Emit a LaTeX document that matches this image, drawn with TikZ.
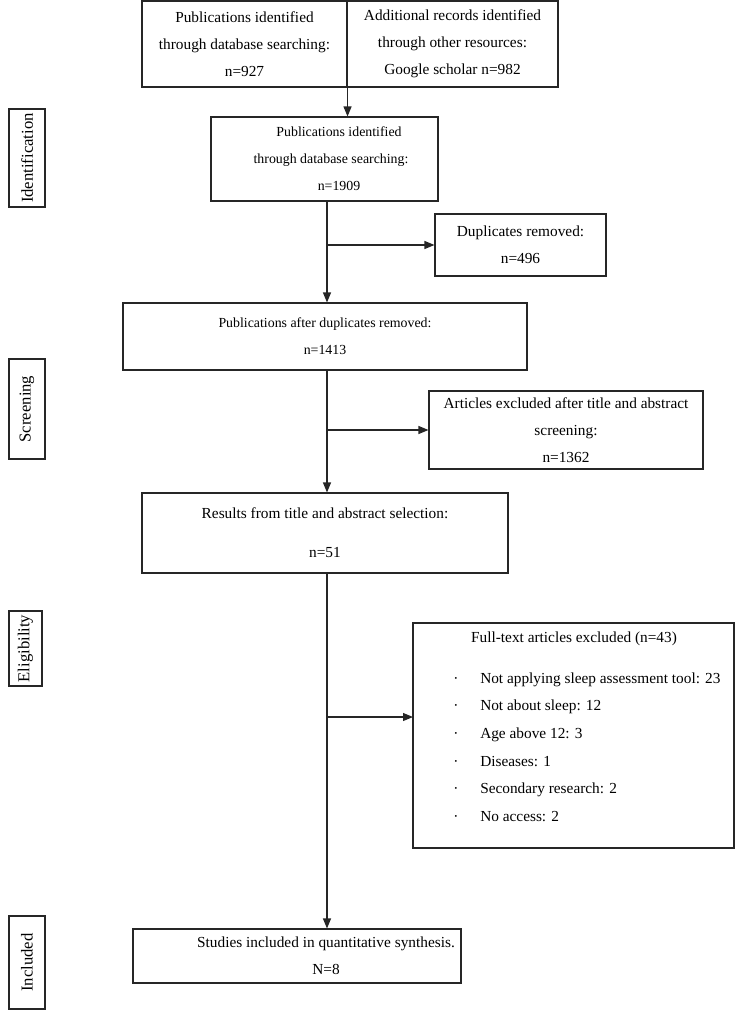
\documentclass[tikz,border=0pt]{standalone}
\usepackage{fontspec}
\setmainfont{Liberation Serif}
\usetikzlibrary{arrows.meta}

\tikzset{
  flowbox/.style={draw=black!85, line width=0.8pt, inner sep=0pt, align=center,
    font=\fontsize{11.5}{20.25}\selectfont},
  smallbox/.style={flowbox, font=\fontsize{10.4}{20.25}\selectfont},
  stagebox/.style={draw=black!85, line width=0.8pt, inner sep=0pt, rotate=90,
    font=\fontsize{12.5}{14}\selectfont},
  flowarr/.style={draw=black!85, line width=0.8pt, -{Triangle[length=7.5pt,width=6pt]}}
}

\begin{document}
\begin{tikzpicture}[x=0.75pt,y=0.75pt,yscale=-1,xscale=1]
\useasboundingbox (0,0) rectangle (735,1010);

%Stage labels
\draw (27,158) node [stagebox, minimum width=73.5pt, minimum height=27pt] (stident) {Identification};
\draw (27,409) node [stagebox, minimum width=75pt, minimum height=27pt] (stscreen) {Screening};
\draw (25.5,648.5) node [stagebox, minimum width=56.25pt, minimum height=24.75pt] (stelig) {Eligibility};
\draw (27,962.5) node [stagebox, minimum width=69.75pt, minimum height=27pt] (stincl) {Included};

%Sources
\draw (244.5,44) node [flowbox, minimum width=153.75pt, minimum height=64.5pt] (dbsearch) {Publications identified\\through database searching:\\n=927};
\draw (452.5,44) node [flowbox, minimum width=158.25pt, minimum height=64.5pt] (otherres) {Additional records identified\\through other resources:\\Google scholar n=982};

%Main column
\draw (324.5,159) node [smallbox, minimum width=170.25pt, minimum height=63pt] (ident) {\hspace*{21.8pt}Publications identified\\\hspace*{9.8pt}through database searching:\\\hspace*{21.8pt}n=1909};
\draw (325,336.5) node [smallbox, minimum width=303pt, minimum height=50.25pt] (dedup) {Publications after duplicates removed:\\n=1413};
\draw (325,533) node [flowbox, minimum width=274.5pt, minimum height=60pt] (screened) {Results from title and abstract selection:\\[9pt]n=51};
\draw (297,956) node [flowbox, minimum width=246pt, minimum height=40.5pt] (included) {\hspace*{43.5pt}Studies included in quantitative synthesis.\\\hspace*{43.5pt}N=8};

%Side boxes
\draw (520.5,245) node [flowbox, minimum width=128.25pt, minimum height=46.5pt] (dupl) {Duplicates removed:\\n=496};
\draw (566,430) node [flowbox, minimum width=205.5pt, minimum height=58.5pt] (titleex) {Articles excluded after title and abstract\\screening:\\n=1362};
\draw (573.5,735.5) node [flowbox, minimum width=240.75pt, minimum height=168.75pt] (fulltext) {};
% Text Node
\draw (574,639) node [font=\fontsize{11.5}{20.25}\selectfont, inner sep=0pt] (fttitle) {Full-text articles excluded (n=43)};
% Text Node
\draw (453,747) node [anchor=west, align=left, inner sep=0pt, font=\fontsize{11.5}{20.7}\selectfont] (ftlist) {%
\makebox[20.25pt][l]{·}Not applying sleep assessment tool: 23\\
\makebox[20.25pt][l]{·}Not about sleep: 12\\
\makebox[20.25pt][l]{·}Age above 12: 3\\
\makebox[20.25pt][l]{·}Diseases: 1\\
\makebox[20.25pt][l]{·}Secondary research: 2\\
\makebox[20.25pt][l]{·}No access: 2};

%Connectors
\coordinate (trunk) at (327,0);
\coordinate (ftin) at (413,717);
\draw [flowarr] (dbsearch.south east) -- (dbsearch.south east |- ident.north);
\draw [flowarr] (ident.south -| trunk) -- (dedup.north -| trunk);
\draw [flowarr] (trunk |- dupl.west) -- (dupl.west);
\draw [flowarr] (dedup.south -| trunk) -- (screened.north -| trunk);
\draw [flowarr] (trunk |- titleex.west) -- (titleex.west);
\draw [flowarr] (screened.south -| trunk) -- (included.north -| trunk);
\draw [flowarr] (trunk |- ftin) -- (ftin);

\end{tikzpicture}
\end{document}
